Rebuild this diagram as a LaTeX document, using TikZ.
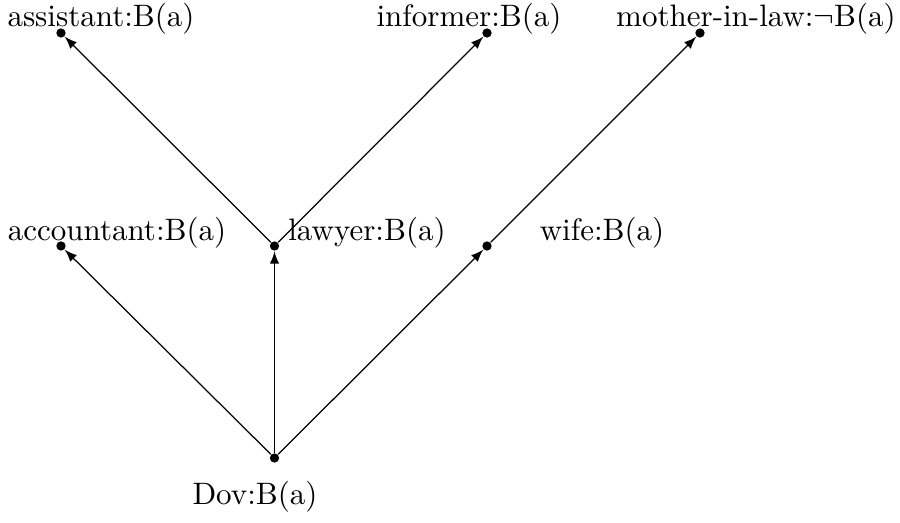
\documentclass[tikz,border=0pt]{standalone}
\usepackage{amsmath,amssymb}
\usepackage{tikz}
\usetikzlibrary{arrows}

\tikzset{
  agent/.style={circle,fill=black,inner sep=0pt,minimum size=3pt},
  belief/.style={-latex,shorten >=0pt}
}

\begin{document}
\begin{tikzpicture}[x=0.3225pt,y=0.3225pt]
        \useasboundingbox (0,0) rectangle (900,523);
        % points
        \node[agent] (dov) at (274.5,65) {};
        \node[agent] (acc) at (61,277) {};
        \node[agent] (law) at (274.5,277) {};
        \node[agent] (wife) at (487,277) {};
        \node[agent] (ass) at (61,490) {};
        \node[agent] (inf) at (487,490) {};
        \node[agent] (mil) at (700,490) {};
        % labels
        \node (dovl) at (255,26) {Dov:B(a)};
        \node (accl) at (117,290) {accountant:B(a)};
        \node (lawl) at (367,290) {lawyer:B(a)};
        \node (wifel) at (602,290) {wife:B(a)};
        \node (assl) at (101,504) {assistant:B(a)};
        \node (infl) at (469,504) {informer:B(a)};
        \node (mill) at (756,504) {mother-in-law:$\neg$B(a)};
        % arrows
        \draw[belief] (dov) -- (acc);
        \draw[belief] (dov) -- (law);
        \draw[belief] (dov) -- (wife);
        \draw[belief] (law) -- (ass);
        \draw[belief] (law) -- (inf);
        \draw[belief] (wife) -- (mil);
    \end{tikzpicture}
\end{document}
